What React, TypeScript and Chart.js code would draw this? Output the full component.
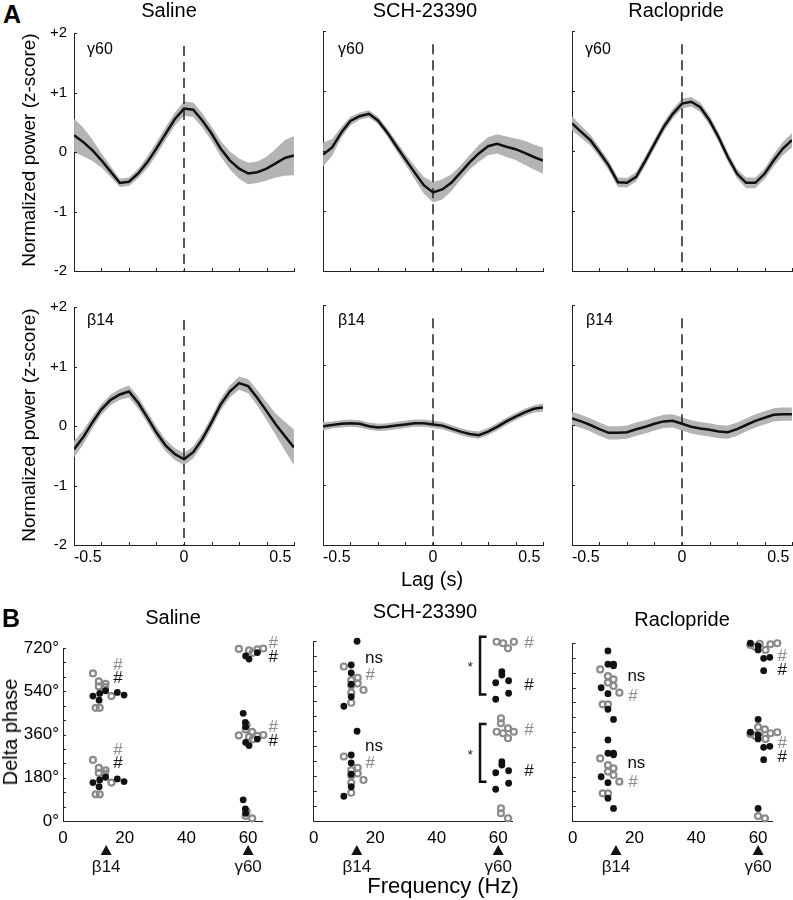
import React, { useEffect, useRef } from 'react';
import { Chart, registerables } from 'chart.js';
Chart.register(...registerables);

const FONT = '"Liberation Sans", Arial, Helvetica, sans-serif';
const BAND = '#b4b4b4';
const GRAY_PT = '#8a8a8a';
const INK = '#111';

// ---------- Panel A data (lag in s, normalized power z-score) ----------
const LAG = [-0.571, -0.524, -0.476, -0.429, -0.381, -0.333, -0.286, -0.238, -0.19, -0.143, -0.095, -0.048, 0, 0.048, 0.095, 0.143, 0.19, 0.238, 0.286, 0.333, 0.381, 0.429, 0.476, 0.524, 0.571];

const SAL_G60_MEAN = [0.28, 0.17, 0.03, -0.14, -0.33, -0.52, -0.5, -0.36, -0.17, 0.06, 0.31, 0.55, 0.73, 0.71, 0.53, 0.31, 0.06, -0.14, -0.28, -0.36, -0.34, -0.28, -0.19, -0.1, -0.06];
const SAL_G60_SEM = [0.28, 0.24, 0.18, 0.12, 0.09, 0.07, 0.07, 0.08, 0.1, 0.11, 0.11, 0.11, 0.12, 0.12, 0.12, 0.12, 0.13, 0.15, 0.17, 0.18, 0.18, 0.2, 0.24, 0.3, 0.33];
const SCH_G60_MEAN = [-0.06, 0.06, 0.31, 0.5, 0.58, 0.62, 0.51, 0.31, 0.08, -0.14, -0.36, -0.57, -0.69, -0.64, -0.53, -0.36, -0.19, -0.04, 0.08, 0.12, 0.07, 0.03, -0.03, -0.1, -0.16];
const SCH_G60_SEM = [0.2, 0.14, 0.09, 0.07, 0.06, 0.06, 0.06, 0.07, 0.08, 0.09, 0.11, 0.14, 0.17, 0.17, 0.14, 0.12, 0.12, 0.14, 0.15, 0.16, 0.17, 0.18, 0.2, 0.21, 0.22];
const RAC_G60_MEAN = [0.46, 0.32, 0.18, -0.02, -0.24, -0.52, -0.53, -0.43, -0.16, 0.12, 0.4, 0.62, 0.79, 0.82, 0.73, 0.51, 0.23, -0.1, -0.38, -0.53, -0.53, -0.38, -0.16, 0.04, 0.18];
const RAC_G60_SEM = [0.12, 0.1, 0.09, 0.08, 0.08, 0.08, 0.08, 0.08, 0.08, 0.08, 0.08, 0.08, 0.08, 0.08, 0.08, 0.08, 0.08, 0.08, 0.08, 0.09, 0.09, 0.09, 0.1, 0.11, 0.12];

const SAL_B14_MEAN = [-0.39, -0.19, 0.06, 0.28, 0.44, 0.53, 0.58, 0.39, 0.14, -0.11, -0.33, -0.47, -0.56, -0.44, -0.22, 0.06, 0.36, 0.58, 0.72, 0.67, 0.47, 0.25, 0.03, -0.17, -0.36];
const SAL_B14_SEM = [0.14, 0.12, 0.1, 0.09, 0.09, 0.09, 0.1, 0.1, 0.1, 0.1, 0.1, 0.1, 0.1, 0.1, 0.1, 0.1, 0.1, 0.1, 0.11, 0.12, 0.13, 0.15, 0.18, 0.24, 0.3];
const SCH_B14_MEAN = [-0.02, 0, 0.02, 0.03, 0.02, -0.02, -0.04, -0.03, -0.01, 0.01, 0.03, 0.03, 0.01, -0.01, -0.06, -0.11, -0.15, -0.17, -0.11, -0.03, 0.06, 0.14, 0.21, 0.27, 0.29];
const SCH_B14_SEM = [0.07, 0.06, 0.06, 0.06, 0.06, 0.06, 0.06, 0.06, 0.06, 0.06, 0.06, 0.06, 0.06, 0.06, 0.06, 0.06, 0.06, 0.06, 0.06, 0.06, 0.06, 0.06, 0.06, 0.06, 0.07];
const RAC_B14_MEAN = [0.11, 0.06, 0, -0.07, -0.13, -0.13, -0.12, -0.07, -0.03, 0.02, 0.06, 0.07, 0.02, -0.03, -0.06, -0.08, -0.11, -0.12, -0.07, 0, 0.07, 0.12, 0.17, 0.18, 0.18];
const RAC_B14_SEM = [0.11, 0.11, 0.11, 0.11, 0.11, 0.11, 0.11, 0.11, 0.11, 0.11, 0.11, 0.11, 0.11, 0.11, 0.11, 0.11, 0.11, 0.11, 0.11, 0.11, 0.11, 0.11, 0.11, 0.11, 0.11];

const A_X_MIN = -0.5714;
const A_X_MAX = 0.5714;
const A_X_LABELS = [-0.5, 0, 0.5];
const A_X_TICKS = [-0.571, -0.429, -0.286, -0.143, 0, 0.143, 0.286, 0.429, 0.571];
const A_Y_TICKS = [-2, -1, 0, 1, 2];
const ZERO_LAG = [0, 0];
const ZERO_SPAN = [1.78, -2];

// ---------- Panel B data (frequency Hz, delta phase deg in [0,360); each plotted at phase and phase+360) ----------
const SAL_B14_BLACK_HZ = [9.7, 11.9, 13.8, 11.7, 17.6, 19.8];
const SAL_B14_BLACK_PH = [160, 171, 182, 143, 175, 164];
const SAL_B14_GRAY_HZ = [9.7, 11.6, 13.8, 11.6, 13.6, 15.7, 10.6, 11.9];
const SAL_B14_GRAY_PH = [254, 221, 211, 200, 197, 160, 111, 111];
const SAL_G60_BLACK_HZ = [58.4, 59.1, 59.2, 59.2, 60.3, 63.0];
const SAL_G60_BLACK_PH = [88, 50, 32, 327, 314, 341];
const SAL_G60_GRAY_HZ = [57.0, 60.3, 61.5, 63.0, 64.9, 59.2, 61.3, 59.5];
const SAL_G60_GRAY_PH = [356, 350, 340, 354, 358, 21, 11, 40];

const SCH_B14_BLACK_HZ = [14.1, 12.2, 12.2, 12.2, 12.2, 9.8];
const SCH_B14_BLACK_PH = [359, 264, 232, 187, 137, 99];
const SCH_B14_GRAY_HZ = [9.8, 12.2, 14.3, 14.3, 12.2, 16.2, 12.2, 12.2];
const SCH_B14_GRAY_PH = [258, 203, 213, 190, 182, 164, 153, 113];
const SCH_G60_BLACK_HZ = [61.2, 61.2, 59.2, 63.4, 59.2, 63.4];
const SCH_G60_BLACK_PH = [237, 224, 193, 201, 127, 151];
const SCH_G60_GRAY_HZ = [59.5, 61.6, 63.2, 65.1, 66.8, 60.9, 60.9, 63.2];
const SCH_G60_GRAY_PH = [357, 351, 331, 357, 359, 51, 31, 11];

const RAC_B14_BLACK_HZ = [11.4, 11.4, 13.2, 13.2, 9.2, 11.4, 11.4, 13.2];
const RAC_B14_BLACK_PH = [328, 274, 274, 268, 179, 155, 92, 51];
const RAC_B14_GRAY_HZ = [8.9, 11.4, 13.2, 11.4, 13.2, 15.1, 9.7, 11.4];
const RAC_B14_GRAY_PH = [253, 226, 213, 200, 186, 159, 112, 112];
const RAC_G60_BLACK_HZ = [57.5, 60, 60, 61.8, 63.8, 61.8, 60, 66.2];
const RAC_G60_BLACK_PH = [359, 348, 332, 298, 302, 248, 51, 18];
const RAC_G60_GRAY_HZ = [57.5, 62.4, 64, 66.2, 60, 62.2, 60.5, 59];
const RAC_G60_GRAY_PH = [352, 332, 355, 359, 20, 11, 357, 345];

const B_X_MAX = 64.5;
const B_X_TICKS = [0, 20, 40, 60];
const B_Y_LABELS = [0, 180, 360, 540, 720];
const B_Y_TICKS = [0, 60, 120, 180, 240, 300, 360, 420, 480, 540, 600, 660, 720];
const B_MARK_HZ = [14, 60];
const B_MARK_TEXT = ['β14', 'γ60'];

// annotation lists: [Hz, deg, text, tone]
const SAL_NOTES: [number, number, string, string][] = [
  [17.8, 650, '#', 'g'], [17.8, 595, '#', 'k'], [17.8, 293, '#', 'g'], [17.8, 240, '#', 'k'],
  [68.1, 741, '#', 'g'], [68.1, 682, '#', 'k'], [68.1, 391, '#', 'g'], [68.1, 331, '#', 'k'],
];
const SCH_NOTES: [number, number, string, string][] = [
  [19.6, 651, 'ns', 'k'], [18.4, 584, '#', 'g'], [19.6, 297, 'ns', 'k'], [18.4, 232, '#', 'g'],
  [50.9, 622, '*', 'k'], [50.9, 271, '*', 'k'],
  [70, 711, '#', 'g'], [70, 544, '#', 'k'], [70, 361, '#', 'g'], [70, 197, '#', 'k'],
];
const SCH_BRACKETS: [number, number, number, number][] = [
  [54.1, 56.2, 737, 506], [54.1, 56.2, 388, 157],
];
const RAC_NOTES: [number, number, string, string][] = [
  [20.6, 587, 'ns', 'k'], [19.5, 503, '#', 'g'], [20.6, 233, 'ns', 'k'], [19.5, 155, '#', 'g'],
  [67.8, 667, '#', 'g'], [67.8, 608, '#', 'k'], [67.8, 314, '#', 'g'], [67.8, 256, '#', 'k'],
];

// ---------- decoration plugin (inward ticks, notes, brackets, markers) ----------
function decor(cfg: any) {
  return {
    id: 'decor',
    afterDraw(chart: any) {
      const { ctx, chartArea } = chart;
      const xs = chart.scales.x, ys = chart.scales.y;
      ctx.save();
      ctx.strokeStyle = '#222';
      ctx.lineWidth = 1;
      const len = cfg.tickLen || 3;
      (cfg.xTicks || []).forEach((v: number) => {
        const px = Math.round(xs.getPixelForValue(v)) + 0.5;
        ctx.beginPath(); ctx.moveTo(px, chartArea.bottom); ctx.lineTo(px, chartArea.bottom - len); ctx.stroke();
      });
      (cfg.yTicks || []).forEach((v: number) => {
        const py = Math.round(ys.getPixelForValue(v)) + 0.5;
        ctx.beginPath(); ctx.moveTo(chartArea.left, py); ctx.lineTo(chartArea.left + len, py); ctx.stroke();
      });
      (cfg.brackets || []).forEach((b: number[]) => {
        const x1 = xs.getPixelForValue(b[0]), x2 = xs.getPixelForValue(b[1]);
        const y1 = ys.getPixelForValue(b[2]), y2 = ys.getPixelForValue(b[3]);
        ctx.strokeStyle = INK; ctx.lineWidth = 2.5;
        ctx.beginPath(); ctx.moveTo(x2, y1); ctx.lineTo(x1, y1); ctx.lineTo(x1, y2); ctx.lineTo(x2, y2); ctx.stroke();
      });
      ctx.textAlign = 'center';
      ctx.textBaseline = 'middle';
      (cfg.notes || []).forEach((n: any[]) => {
        const t = n[2];
        ctx.font = (t === '*' ? '13px ' : '17px ') + FONT;
        ctx.fillStyle = n[3] === 'g' ? '#8a8a8a' : INK;
        ctx.fillText(t, xs.getPixelForValue(n[0]), ys.getPixelForValue(n[1]) + (t === '*' ? 2 : 0));
      });
      (cfg.markers || []).forEach((hz: number, i: number) => {
        const px = xs.getPixelForValue(hz);
        const ty = chartArea.bottom + 29;
        ctx.fillStyle = INK;
        ctx.beginPath(); ctx.moveTo(px, ty - 5); ctx.lineTo(px + 5.5, ty + 5); ctx.lineTo(px - 5.5, ty + 5); ctx.closePath(); ctx.fill();
        ctx.font = '17px ' + FONT;
        ctx.fillText(cfg.markerText[i], px, chartArea.bottom + 46);
      });
      ctx.restore();
    },
  };
}

// ---------- geometry ----------
const A_COLS = [[74, 294], [323, 543], [572, 792]];
const A_ROWS = [[31, 271], [305, 545]];
const A_PT = 14, A_PR = 6, A_XH = 26;

function aPanel(col: number, row: number, mean: number[], sem: number[]) {
  const [L, R] = A_COLS[col];
  const [T, B] = A_ROWS[row];
  const yLabels = col === 0;
  const xLabels = row === 1;
  const yW = yLabels ? 50 : 10;
  const box = { left: L - yW, top: T - A_PT, width: yW + (R - L) + A_PR, height: A_PT + (B - T) + A_XH };
  const build = () => ({
    type: 'line',
    data: {
      // Chart.js paints the last dataset first: mean line on top, then dashed zero line, then the band.
      datasets: [
        { data: LAG.map((x, i) => ({ x, y: mean[i] })), borderColor: INK, borderWidth: 2.5, pointRadius: 0, fill: false },
        { data: ZERO_LAG.map((x, i) => ({ x, y: ZERO_SPAN[i] })), borderColor: '#222', borderWidth: 1.5, borderDash: [10, 6], pointRadius: 0, fill: false },
        { data: LAG.map((x, i) => ({ x, y: mean[i] + sem[i] })), borderWidth: 0, borderColor: 'rgba(0,0,0,0)', pointRadius: 0, fill: '+1', backgroundColor: BAND },
        { data: LAG.map((x, i) => ({ x, y: mean[i] - sem[i] })), borderWidth: 0, borderColor: 'rgba(0,0,0,0)', pointRadius: 0, fill: false },
      ],
    },
    options: {
      responsive: false, animation: false, devicePixelRatio: 1,
      layout: { padding: { left: 0, top: A_PT, right: A_PR, bottom: 0 } },
      plugins: { legend: { display: false }, tooltip: { enabled: false } },
      scales: {
        x: {
          type: 'linear', min: A_X_MIN, max: A_X_MAX,
          afterFit: (s: any) => { s.height = A_XH; },
          afterBuildTicks: (s: any) => { s.ticks = A_X_LABELS.map((v) => ({ value: v })); },
          grid: { display: false, drawTicks: false },
          border: { display: true, color: '#222', width: 1 },
          ticks: { display: xLabels, padding: 3, autoSkip: false, maxRotation: 0, color: '#000', font: { family: FONT, size: 16 }, callback: (v: any) => String(v) },
        },
        y: {
          type: 'linear', min: -2, max: 2,
          afterFit: (s: any) => { s.width = yW; },
          afterBuildTicks: (s: any) => { s.ticks = A_Y_TICKS.map((v) => ({ value: v })); },
          grid: { display: false, drawTicks: false },
          border: { display: true, color: '#222', width: 1 },
          ticks: { display: yLabels, padding: 7, autoSkip: false, color: '#000', font: { family: FONT, size: 15 }, callback: (v: any) => (v > 0 ? '+' + v : String(v)) },
        },
      },
    },
    plugins: [decor({ xTicks: A_X_TICKS, yTicks: A_Y_TICKS, tickLen: 3 })],
  });
  return { box, build };
}

const B_GEOM = [
  { L: 63, R: 262, T: 648 },
  { L: 312, R: 512, T: 641 },
  { L: 571, R: 772, T: 643 },
];
const B_BOTTOM = 821, B_PT = 22, B_PR = 35, B_XH = 60;

function pts(hz: number[], ph: number[]) {
  return [...hz.map((h, i) => ({ x: h, y: ph[i] })), ...hz.map((h, i) => ({ x: h, y: ph[i] + 360 }))];
}

function bPanel(col: number, black: any[], gray: any[], notes: any[], brackets: any[]) {
  const g = B_GEOM[col];
  const yLabels = col === 0;
  const yW = yLabels ? 60 : 10;
  const box = { left: g.L - yW, top: g.T - B_PT, width: yW + (g.R - g.L) + B_PR, height: B_PT + (B_BOTTOM - g.T) + B_XH };
  const build = () => ({
    type: 'scatter',
    data: {
      datasets: [
        { data: black, pointRadius: 3.4, backgroundColor: INK, borderWidth: 0, clip: false },
        { data: gray, pointRadius: 3, backgroundColor: 'rgba(0,0,0,0)', borderColor: GRAY_PT, borderWidth: 2.2, clip: false },
      ],
    },
    options: {
      responsive: false, animation: false, devicePixelRatio: 1,
      layout: { padding: { left: 0, top: B_PT, right: B_PR, bottom: 0 } },
      plugins: { legend: { display: false }, tooltip: { enabled: false } },
      scales: {
        x: {
          type: 'linear', min: 0, max: B_X_MAX,
          afterFit: (s: any) => { s.height = B_XH; },
          afterBuildTicks: (s: any) => { s.ticks = B_X_TICKS.map((v) => ({ value: v })); },
          grid: { display: false, drawTicks: false },
          border: { display: true, color: '#222', width: 1 },
          ticks: { padding: 7, autoSkip: false, maxRotation: 0, color: '#000', font: { family: FONT, size: 17 } },
        },
        y: {
          type: 'linear', min: 0, max: 720,
          afterFit: (s: any) => { s.width = yW; },
          afterBuildTicks: (s: any) => { s.ticks = B_Y_LABELS.map((v) => ({ value: v })); },
          grid: { display: false, drawTicks: false },
          border: { display: true, color: '#222', width: 1 },
          ticks: { display: yLabels, padding: 4, autoSkip: false, color: '#000', font: { family: FONT, size: 17 }, callback: (v: any) => v + '°' },
        },
      },
    },
    plugins: [decor({ yTicks: B_Y_TICKS, tickLen: 3, notes, brackets, markers: B_MARK_HZ, markerText: B_MARK_TEXT })],
  });
  return { box, build };
}

const PANELS = [
  aPanel(0, 0, SAL_G60_MEAN, SAL_G60_SEM),
  aPanel(1, 0, SCH_G60_MEAN, SCH_G60_SEM),
  aPanel(2, 0, RAC_G60_MEAN, RAC_G60_SEM),
  aPanel(0, 1, SAL_B14_MEAN, SAL_B14_SEM),
  aPanel(1, 1, SCH_B14_MEAN, SCH_B14_SEM),
  aPanel(2, 1, RAC_B14_MEAN, RAC_B14_SEM),
  bPanel(0, [...pts(SAL_B14_BLACK_HZ, SAL_B14_BLACK_PH), ...pts(SAL_G60_BLACK_HZ, SAL_G60_BLACK_PH)],
    [...pts(SAL_B14_GRAY_HZ, SAL_B14_GRAY_PH), ...pts(SAL_G60_GRAY_HZ, SAL_G60_GRAY_PH)], SAL_NOTES, []),
  bPanel(1, [...pts(SCH_B14_BLACK_HZ, SCH_B14_BLACK_PH), ...pts(SCH_G60_BLACK_HZ, SCH_G60_BLACK_PH)],
    [...pts(SCH_B14_GRAY_HZ, SCH_B14_GRAY_PH), ...pts(SCH_G60_GRAY_HZ, SCH_G60_GRAY_PH)], SCH_NOTES, SCH_BRACKETS),
  bPanel(2, [...pts(RAC_B14_BLACK_HZ, RAC_B14_BLACK_PH), ...pts(RAC_G60_BLACK_HZ, RAC_G60_BLACK_PH)],
    [...pts(RAC_B14_GRAY_HZ, RAC_B14_GRAY_PH), ...pts(RAC_G60_GRAY_HZ, RAC_G60_GRAY_PH)], RAC_NOTES, []),
];

function ChartCanvas({ box, build }: { box: any; build: () => any }) {
  const ref = useRef<HTMLCanvasElement>(null);
  useEffect(() => {
    const chart = new Chart(ref.current as HTMLCanvasElement, build());
    return () => chart.destroy();
  }, []);
  return (
    <canvas ref={ref} width={box.width} height={box.height}
      style={{ position: 'absolute', left: box.left, top: box.top, width: box.width, height: box.height }} />
  );
}

function Txt({ x, y, size, children, bold, rot, left }: any) {
  return (
    <div style={{
      position: 'absolute', left: x, top: y, fontFamily: FONT, fontSize: size, lineHeight: 1,
      fontWeight: bold ? 'bold' : 'normal', whiteSpace: 'nowrap', color: '#000',
      transform: left ? 'translate(0,-50%)' : 'translate(-50%,-50%)' + (rot ? ' rotate(-90deg)' : ''),
    }}>{children}</div>
  );
}

export default function App() {
  return (
    <div style={{ position: 'absolute', left: 0, top: 0, width: 793, height: 900, overflow: 'hidden', background: '#fff' }}>
      {PANELS.map((p, i) => <ChartCanvas key={i} box={p.box} build={p.build} />)}
      <Txt x={12} y={14} size={25} bold>A</Txt>
      <Txt x={11} y={618} size={25} bold>B</Txt>
      <Txt x={169} y={10} size={20}>Saline</Txt>
      <Txt x={425} y={10} size={20}>SCH-23390</Txt>
      <Txt x={676} y={10} size={20}>Raclopride</Txt>
      <Txt x={28} y={150} size={19} rot>Normalized power (z-score)</Txt>
      <Txt x={28} y={425} size={19} rot>Normalized power (z-score)</Txt>
      <Txt x={87} y={49} size={16} left>γ60</Txt>
      <Txt x={338} y={49} size={16} left>γ60</Txt>
      <Txt x={585} y={49} size={16} left>γ60</Txt>
      <Txt x={87} y={320} size={16} left>β14</Txt>
      <Txt x={338} y={320} size={16} left>β14</Txt>
      <Txt x={586} y={320} size={16} left>β14</Txt>
      <Txt x={432} y={579} size={20}>Lag (s)</Txt>
      <Txt x={173} y={617} size={20}>Saline</Txt>
      <Txt x={425} y={611} size={20}>SCH-23390</Txt>
      <Txt x={682} y={619} size={20}>Raclopride</Txt>
      <Txt x={10} y={732} size={20} rot>Delta phase</Txt>
      <Txt x={443} y={886} size={22}>Frequency (Hz)</Txt>
    </div>
  );
}
